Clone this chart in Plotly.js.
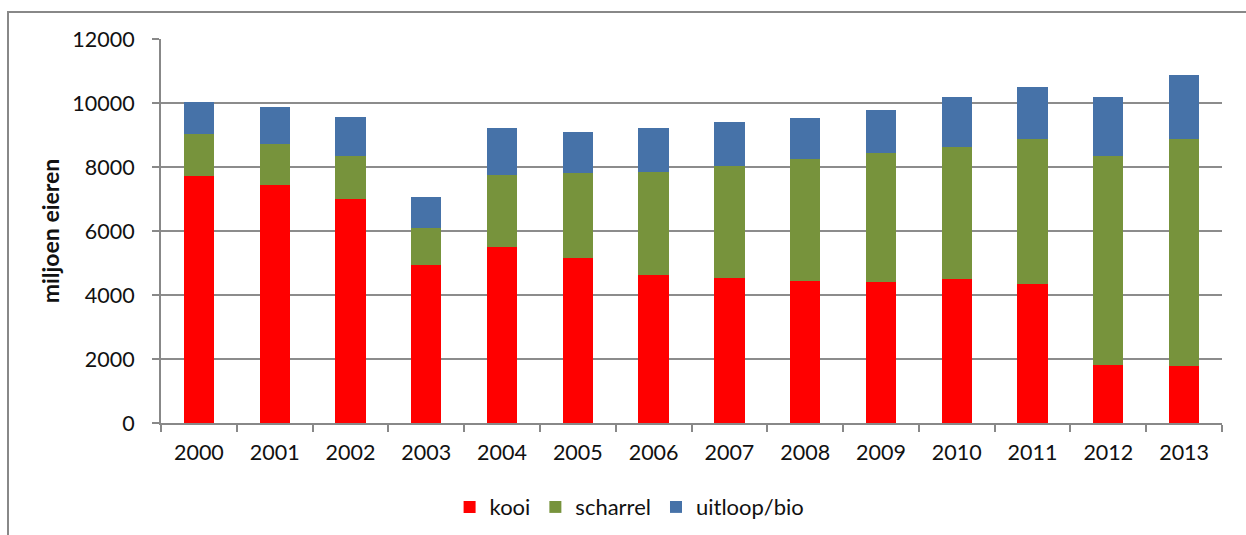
<!DOCTYPE html>
<html>
<head>
<meta charset="utf-8">
<script src="https://cdn.plot.ly/plotly-3.0.1.min.js"></script>
<style>
  html, body { margin: 0; padding: 0; background: #fff; }
  #wrap { position: relative; width: 1246px; height: 535px; overflow: hidden; }
  #frame { position: absolute; left: 7px; top: 11px; width: 1300px; height: 600px;
           border-top: 2px solid #888; border-left: 2px solid #888; pointer-events: none; }
  #chart { position: absolute; left: 0; top: 0; width: 1246px; height: 535px; }
</style>
</head>
<body>
<div id="wrap">
  <div id="chart"></div>
  <div id="frame"></div>
</div>
<script>
const years = ["2000","2001","2002","2003","2004","2005","2006","2007","2008","2009","2010","2011","2012","2013"];
const kooi     = [7730, 7450, 7010, 4940, 5515, 5165, 4610, 4545, 4430, 4415, 4500, 4340, 1810, 1780];
const scharrel = [1300, 1270, 1325, 1150, 2230, 2645, 3245, 3490, 3810, 4010, 4140, 4545, 6520, 7085];
const uitloop  = [ 990, 1150, 1215,  970, 1460, 1270, 1355, 1385, 1280, 1365, 1535, 1630, 1855, 1995];
const seriesNames = ["kooi", "scharrel", "uitloop/bio"];
const yTicks = [0, 2000, 4000, 6000, 8000, 10000, 12000];

const colors = ["#FF0000", "#77933C", "#4672A8"];
const font = "Lato, 'Open Sans', sans-serif";

const traces = [kooi, scharrel, uitloop].map((vals, i) => ({
  type: "bar",
  name: seriesNames[i],
  x: years,
  y: vals,
  marker: { color: colors[i], line: { width: 0 } },
  hoverinfo: "x+y+name"
}));

const layout = {
  width: 1246,
  height: 535,
  barmode: "stack",
  bargap: 0.6,
  paper_bgcolor: "rgba(0,0,0,0)",
  plot_bgcolor: "#fff",
  margin: { l: 161, r: 24, t: 39, b: 112, autoexpand: false },
  font: { family: font, size: 21.5, color: "#111" },
  xaxis: {
    type: "category",
    showgrid: false,
    showline: true,
    linecolor: "#888",
    linewidth: 2,
    ticks: "outside",
    tickson: "boundaries",
    ticklen: 7,
    tickcolor: "#888",
    tickwidth: 2,
    ticklabelstandoff: 9,
    tickfont: { family: font, size: 21.5, color: "#111" }
  },
  yaxis: {
    range: [0, 12000],
    tickvals: yTicks,
    ticktext: yTicks.map(String),
    showgrid: true,
    gridcolor: "#8c8c8c",
    gridwidth: 1.6,
    showline: true,
    linecolor: "#888",
    linewidth: 2,
    ticks: "outside",
    ticklen: 7,
    tickcolor: "#888",
    tickwidth: 2,
    ticklabelstandoff: 13,
    zeroline: false,
    tickfont: { family: font, size: 21.5, color: "#111" },
    title: { text: "<b>miljoen eieren</b>", font: { family: font, size: 23, color: "#111" }, standoff: 6 }
  },
  legend: {
    orientation: "h",
    x: 0.272,
    xanchor: "left",
    y: -0.219,
    yanchor: "middle",
    font: { family: font, size: 22, color: "#111" },
    bgcolor: "rgba(0,0,0,0)",
    traceorder: "normal"
  },
  showlegend: true
};

Plotly.newPlot("chart", traces, layout, { displayModeBar: false, staticPlot: true });
</script>
</body>
</html>
